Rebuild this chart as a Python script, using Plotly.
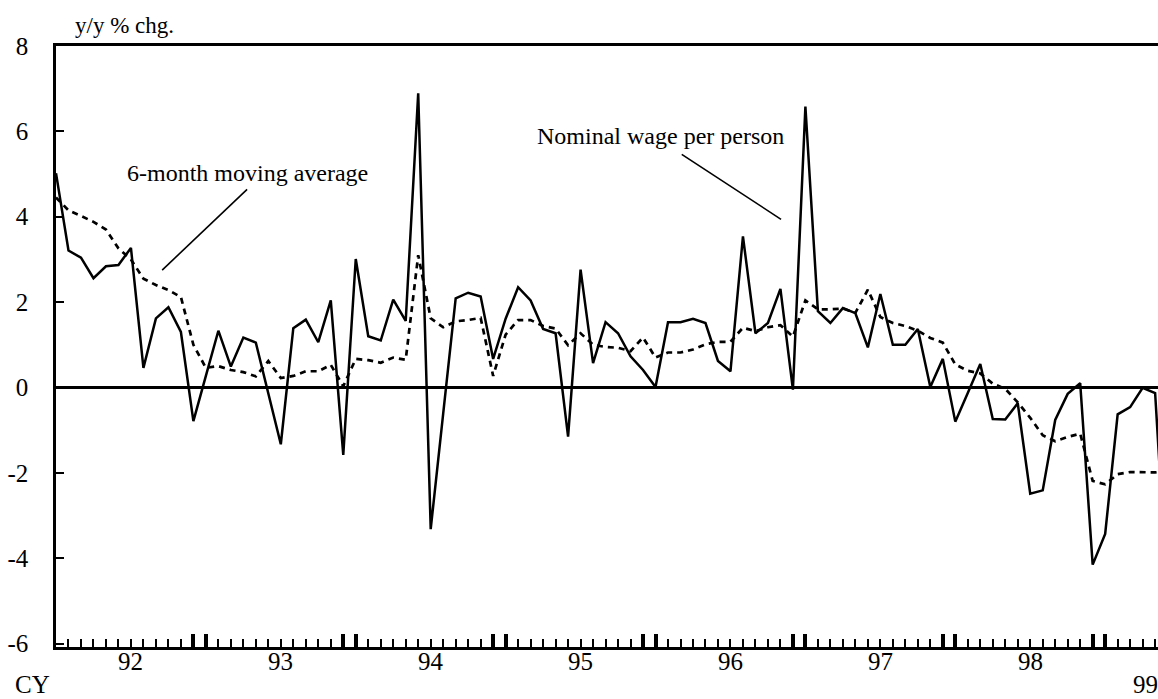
import plotly.graph_objects as go

# ---- data (monthly, Jan 1992 = index 0) ----
wage = [5.02, 3.21, 3.04, 2.56, 2.84, 2.87, 3.27, 0.46, 1.62, 1.88, 1.30, -0.79,
        0.27, 1.33, 0.49, 1.17, 1.05, -0.14, -1.33, 1.39, 1.59, 1.06, 2.04, -1.58,
        3.01, 1.20, 1.10, 2.06, 1.56, 6.89, -3.32, -0.61, 2.09, 2.22, 2.13, 0.67,
        1.61, 2.35, 2.04, 1.37, 1.27, -1.15, 2.76, 0.57, 1.53, 1.27, 0.73, 0.41,
        0.01, 1.53, 1.53, 1.61, 1.51, 0.62, 0.38, 3.54, 1.27, 1.51, 2.31, -0.05,
        6.58, 1.79, 1.51, 1.86, 1.74, 0.94, 2.19, 1.00, 1.00, 1.37, 0.01, 0.67,
        -0.80, -0.13, 0.55, -0.74, -0.75, -0.37, -2.49, -2.41, -0.76, -0.15, 0.10, -4.15,
        -3.43, -0.63, -0.46, -0.01, -0.13, -5.00]
mov_avg = [4.45, 4.15, 4.02, 3.88, 3.70, 3.26, 3.00, 2.55, 2.40, 2.28, 2.12, 1.00,
           0.46, 0.50, 0.41, 0.36, 0.26, 0.62, 0.22, 0.27, 0.38, 0.38, 0.53, 0.03,
           0.67, 0.64, 0.58, 0.70, 0.65, 3.10, 1.62, 1.41, 1.55, 1.58, 1.63, 0.27,
           1.24, 1.58, 1.58, 1.44, 1.38, 0.99, 1.27, 1.00, 0.95, 0.93, 0.85, 1.17,
           0.70, 0.82, 0.82, 0.89, 1.01, 1.07, 1.07, 1.40, 1.32, 1.41, 1.46, 1.19,
           2.04, 1.83, 1.83, 1.85, 1.75, 2.29, 1.65, 1.51, 1.44, 1.33, 1.16, 1.05,
           0.54, 0.39, 0.33, 0.09, -0.03, -0.35, -0.71, -1.12, -1.26, -1.16, -1.08, -2.19,
           -2.27, -2.03, -1.98, -1.98, -1.99, -1.95]
months = list(range(len(wage)))
year_labels = ["92", "93", "94", "95", "96", "97", "98", "99"]
y_ticks = [-6, -4, -2, 0, 2, 4, 6, 8]
y_ticktext = ["-6", "-4", "-2", "0", "2", "4", "6", "8"]

FONT = "Liberation Serif"
W, H = 1158, 699
ML, MT, MB, MR = 56, 46, 52, 0
PW, PH = W - ML - MR, H - MT - MB

def px_to_paper_y(py):
    return (H - MB - py) / PH

def px_to_paper_x(px):
    return (px - ML) / PW

fig = go.Figure()
fig.add_trace(go.Scatter(x=months, y=mov_avg, mode="lines",
                         line=dict(color="black", width=2.7, dash="6px,5px"),
                         showlegend=False, hoverinfo="skip"))
fig.add_trace(go.Scatter(x=months, y=wage, mode="lines",
                         line=dict(color="black", width=2.5),
                         showlegend=False, hoverinfo="skip"))

# bold ticks at year boundaries (Dec & Jan), minor ticks every month
major = [0] + [v for k in range(1, 8) for v in (12 * k - 1, 12 * k)]
fig.update_xaxes(range=[0, 88.23], showgrid=False, zeroline=False,
                 showline=True, linecolor="black", linewidth=3, mirror=True,
                 ticks="inside", tickmode="array", tickvals=major, ticklen=13,
                 tickwidth=4, tickcolor="black", showticklabels=False,
                 minor=dict(tickmode="array", tickvals=months, ticks="inside",
                            ticklen=8, tickwidth=1.6, tickcolor="black", showgrid=False))
fig.update_yaxes(range=[-6.08, 8], showgrid=False, zeroline=True,
                 zerolinecolor="black", zerolinewidth=2.5,
                 showline=True, linecolor="black", linewidth=2.5,
                 ticks="inside", ticklen=8, tickwidth=1.5, tickcolor="black",
                 tickmode="array", tickvals=y_ticks, ticktext=y_ticktext,
                 tickfont=dict(family=FONT, size=25, color="black"),
                 ticklabelstandoff=20)

ann = []
# year labels
for i, lab in enumerate(year_labels[:-1]):
    ann.append(dict(x=6 + 12 * i, y=px_to_paper_y(661), xref="x", yref="paper",
                    text=lab, showarrow=False, xanchor="center", yanchor="middle",
                    font=dict(family=FONT, size=25, color="black")))
ann.append(dict(x=px_to_paper_x(1145), y=px_to_paper_y(684), xref="paper", yref="paper",
                text=year_labels[-1], showarrow=False, xanchor="center", yanchor="middle",
                font=dict(family=FONT, size=25, color="black")))
ann.append(dict(x=px_to_paper_x(32), y=px_to_paper_y(684), xref="paper", yref="paper",
                text="CY", showarrow=False, xanchor="center", yanchor="middle",
                font=dict(family=FONT, size=25, color="black")))
ann.append(dict(x=px_to_paper_x(124), y=px_to_paper_y(25), xref="paper", yref="paper",
                text="y/y % chg.", showarrow=False, xanchor="center", yanchor="middle",
                font=dict(family=FONT, size=23, color="black")))
ann.append(dict(x=15.3, y=5.02, xref="x", yref="y",
                text="6-month moving average", showarrow=False,
                xanchor="center", yanchor="middle",
                font=dict(family=FONT, size=24, color="black")))
ann.append(dict(x=48.4, y=5.88, xref="x", yref="y",
                text="Nominal wage per person", showarrow=False,
                xanchor="center", yanchor="middle",
                font=dict(family=FONT, size=24, color="black")))

shapes = [
    dict(type="line", xref="x", yref="y", x0=15.3, y0=4.64, x1=8.5, y1=2.75,
         line=dict(color="black", width=1.6)),
    dict(type="line", xref="x", yref="y", x0=50.1, y0=5.46, x1=58.05, y1=3.94,
         line=dict(color="black", width=1.6)),
]

fig.update_layout(width=W, height=H, margin=dict(l=ML, r=MR, t=MT, b=MB),
                  paper_bgcolor="white", plot_bgcolor="white",
                  annotations=ann, shapes=shapes, showlegend=False,
                  font=dict(family=FONT, color="black"))

fig.write_html("out.html", config={"displayModeBar": False},
               post_script="document.body.style.margin='0';document.body.style.overflow='hidden';")
